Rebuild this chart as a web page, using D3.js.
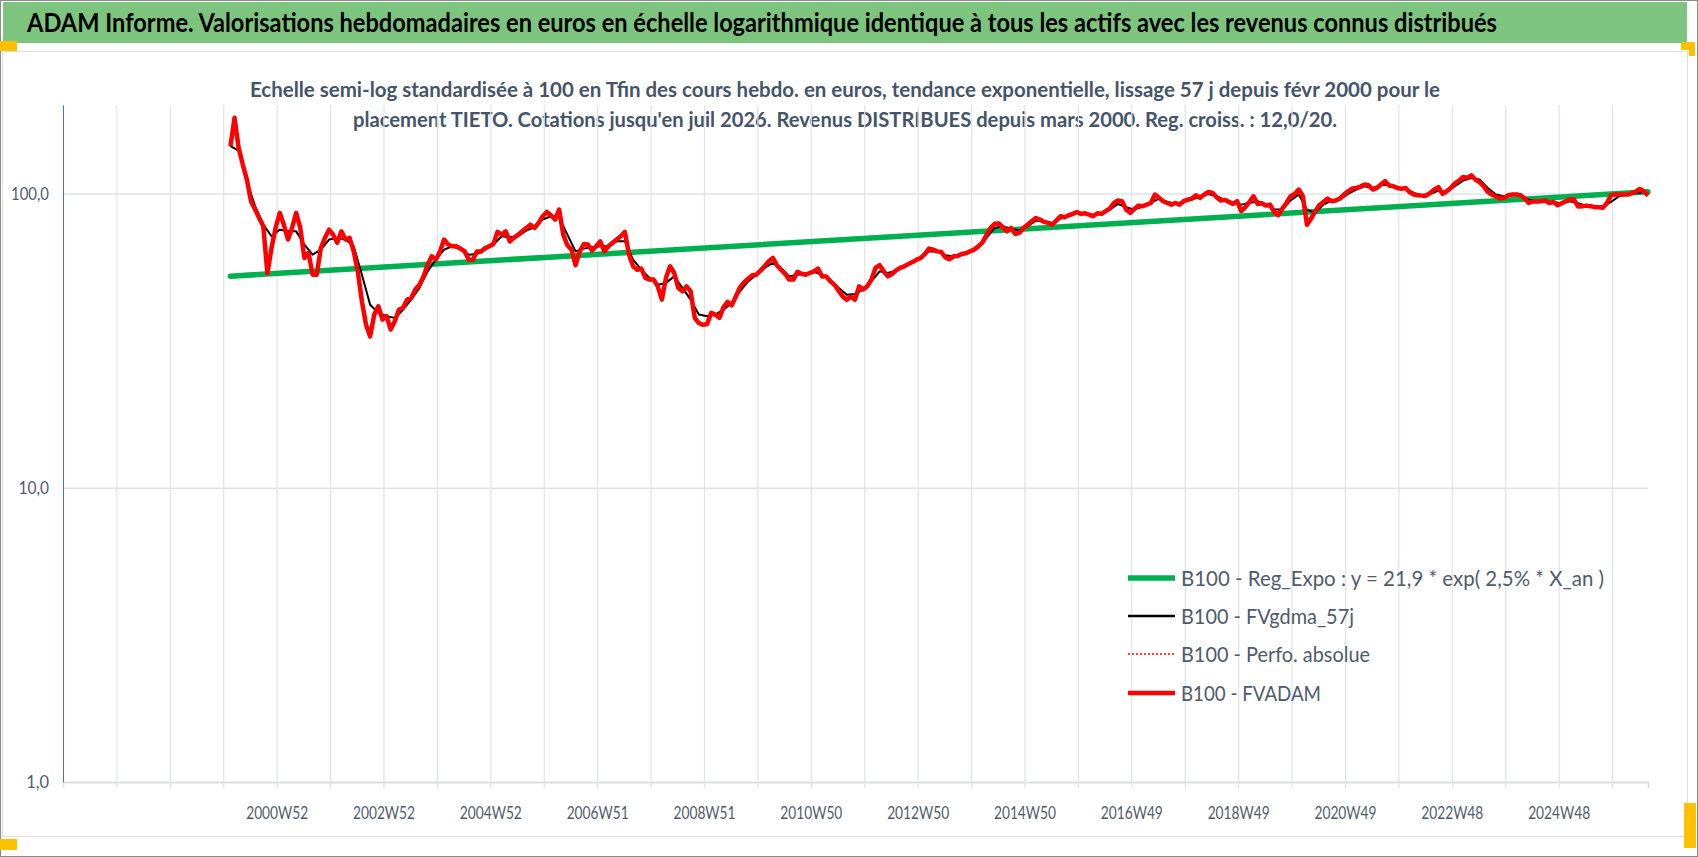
<!DOCTYPE html>
<html>
<head>
<meta charset="utf-8">
<script src="https://cdn.jsdelivr.net/npm/d3@7"></script>
<style>
  body { margin: 0; background: #fff; }
  text { font-family: Lato, "Open Sans", sans-serif; }
</style>
</head>
<body>
<div id="area"></div>
<script>
let titleText = 'ADAM Informe. Valorisations hebdomadaires en euros en échelle logarithmique identique à tous les actifs avec les revenus connus distribués'
let subtitleLines = [
  'Echelle semi-log standardisée à 100 en Tfin des cours hebdo. en euros, tendance exponentielle, lissage 57 j depuis févr 2000 pour le',
  "placement TIETO. Cotations jusqu'en juil 2026. Revenus DISTRIBUES depuis mars 2000. Reg. croiss. : 12,0/20."
]
let legendNames = [
  'B100 - Reg_Expo : y = 21,9 * exp( 2,5% *  X_an )',
  'B100 - FVgdma_57j',
  'B100 - Perfo. absolue',
  'B100 - FVADAM'
]

// weekly category axis: one gridline every 52 weeks, one label every 104
let nWeeks = 1544
let gridStep = 52
let tickLabels = ['2000W52', '2002W52', '2004W52', '2006W51', '2008W51', '2010W50', '2012W50',
  '2014W50', '2016W49', '2018W49', '2020W49', '2022W48', '2024W48']
let firstLabelWeek = 208
let labelStep = 104
let yTicks = [1, 10, 100]

// series start (week index) and sampling steps (weeks)
let firstWeek = 163
let redStep = 4
let blackStep = 8

// B100 - FVADAM, read every 4 weeks
let fvadam = [
  144.9, 180.9, 143.0, 125.5, 111.6, 94.2, 88.2, 82.6, 77.4, 53.5,
  65.3, 76.4, 86.0, 78.4, 69.8, 76.4, 86.0, 76.4, 60.4, 62.8,
  53.0, 53.0, 65.3, 70.7, 75.4, 72.5, 68.0, 74.4, 69.8, 70.7,
  63.6, 54.4, 43.0, 35.8, 32.7, 38.8, 41.4, 37.3, 38.3, 34.5,
  36.8, 40.3, 40.9, 43.6, 44.2, 47.2, 49.0, 52.3, 57.4, 61.2,
  59.6, 63.6, 69.8, 67.1, 66.2, 66.2, 65.0, 63.6, 59.6, 59.6,
  63.6, 63.6, 65.3, 66.2, 67.4, 74.1,
  72.5, 74.4, 68.8, 70.7, 72.5, 74.4, 76.4, 78.4, 76.4, 79.5,
  83.7, 86.6, 84.4, 81.6, 88.2, 72.5, 66.7, 64.5, 57.1, 63.6,
  67.4, 67.1, 64.0, 66.2, 68.8, 63.6, 66.2, 68.0, 69.8, 71.6,
  74.1, 62.0, 56.6, 55.1, 55.6, 51.7, 51.0, 51.0, 48.4, 43.6,
  51.7, 56.6, 53.7, 47.8, 46.5, 48.4, 46.5, 37.8, 36.3, 35.8,
  36.0, 39.3, 38.8, 37.8, 41.1, 42.8, 41.7, 44.7, 48.0, 49.9,
  51.4, 52.8, 53.0, 54.7, 56.6, 58.9, 60.4, 57.1, 55.1, 53.3,
  51.0,
  51.0, 54.2, 53.4, 53.0, 53.7, 54.4, 55.6, 52.3, 52.3, 50.3,
  49.0, 46.8, 44.7, 43.6, 44.7, 43.6, 48.4, 47.2, 48.4, 51.0,
  55.9, 57.1, 54.4, 52.3, 53.3, 54.8, 55.9, 56.6, 57.6, 58.5,
  59.6, 60.4, 62.3, 65.0, 64.5, 63.6, 63.3, 60.7, 59.8, 61.2,
  61.4, 62.3, 62.7, 63.6, 64.5, 66.2, 68.1, 72.2, 76.4, 78.9,
  79.1, 76.8, 74.4, 76.4, 72.9, 73.5, 76.4, 78.4, 80.5, 82.6,
  81.6, 80.1, 79.5, 78.4, 80.9, 83.7, 83.1, 84.4, 85.3, 86.6,
  85.3, 85.7, 84.8, 83.7, 85.7, 85.3, 87.1, 88.9, 92.9, 94.7,
  94.2, 88.2, 86.0, 88.7, 91.0, 90.6, 91.7, 92.9, 99.2, 96.7,
  94.2, 92.9, 91.7, 92.9, 91.7, 94.2, 95.4, 96.2, 98.7, 96.7,
  99.2, 101.3, 100.5, 97.2, 94.7, 95.2, 93.7, 92.2, 94.2, 87.1,
  89.9, 93.7, 97.9, 92.2, 92.7, 91.0, 91.7, 86.6, 84.4, 88.9,
  92.9, 97.9, 99.7, 103.2, 97.9, 78.4, 82.2, 87.1, 91.3, 93.7,
  96.2, 94.2, 94.7, 96.2, 99.2, 101.8, 104.0, 104.5, 105.6, 107.3,
  106.7,
  103.2, 104.5, 107.3, 110.2, 106.5, 105.9, 104.5, 103.7, 104.5, 101.0,
  99.2, 98.7, 98.4, 98.4, 100.5, 103.2, 105.1, 99.7, 101.8, 104.5,
  108.4, 110.7, 113.9, 113.0, 115.4, 111.6, 109.3, 105.9, 101.3, 99.2,
  97.7, 96.2, 96.7, 98.7, 99.2, 99.2, 98.7, 96.2, 92.9, 94.2,
  93.9, 94.2, 94.7, 92.9, 93.7, 91.3, 92.7, 94.2, 95.7, 95.4,
  90.3, 90.6, 91.0, 90.6, 89.9, 89.9, 89.4, 92.9, 98.7, 99.2,
  99.2, 99.2, 99.2, 100.3, 101.3, 103.7, 101.8, 98.4
]

// B100 - FVgdma_57j, read every 8 weeks
let fvgdma = [
  144.9, 140, 110, 90.6, 78.4, 71.6, 75.4, 74.4, 74.4, 67.1,
  62.0, 64.5, 69.8, 70.7, 69.8, 66.2, 53.0, 41.9, 39.3, 38.3,
  37.8, 40.3, 43.6, 47.8, 54.4, 59.6, 64.5, 66.2, 64.5, 62.0,
  62.3, 64.5, 67.1, 71.6, 71.0, 71.6, 74.8, 76.8, 81.6, 83.7,
  83.1, 72.5, 63.6, 65.0, 65.7, 66.2, 66.2, 68.8, 68.8, 59.6,
  55.1, 51.7, 49.0, 49.7, 52.3, 47.8, 43.6, 38.8, 38.3, 38.8,
  40.3, 42.5, 46.5, 50.3, 53.0, 55.9, 58.1, 55.9, 52.3, 53.0,
  53.3, 54.2, 53.0, 51.0, 47.8, 45.3, 45.6, 47.2, 50.3, 54.4,
  53.7, 54.7, 56.4, 58.4, 60.4, 63.6, 63.6, 61.7, 61.1, 62.0,
  63.3, 65.3, 70.7, 76.4, 77.4, 76.0, 74.8, 77.4, 80.9, 80.5,
  79.5, 82.2, 83.9, 85.7, 85.3, 84.8, 85.3, 88.2, 92.2, 89.9,
  88.2, 90.3, 92.9, 96.2, 93.7, 92.5, 93.7, 95.4, 97.7, 99.7,
  97.9, 95.2, 93.2, 91.7, 92.9, 94.2, 91.7, 88.2, 88.2, 94.7,
  99.2, 88.2, 86.0, 91.7, 94.7, 95.4, 99.7, 103.2, 105.9, 104.5,
  106.7, 107.3, 105.1, 104.0, 100.5, 98.7, 99.7, 102.4, 101.3, 105.9,
  110.7, 113.0, 111.6, 104.5, 99.2, 97.7, 98.7, 98.7, 95.2, 94.2,
  94.2, 93.4, 92.7, 94.2, 92.7, 90.8, 90.3, 90.3, 93.7, 97.9,
  99.2, 100.3, 101.3
]

// B100 - Reg_Expo, first and last week values
let regExpo = [52.4, 101.4]

let width = 1698
let height = 857
let plotLeft = 63
let plotRight = 1648
let plotTop = 105
let plotBottom = 782

let text_color = '#4f5b6b'
let grid_color = '#dfe3e9'

let svg = d3.select('#area').append('svg')
  .attr('width', width).attr('height', height)

// frame, title band, chart area
svg.append('rect').attr('x', 0.5).attr('y', 0.5).attr('width', width - 1).attr('height', height - 1)
  .attr('fill', '#fff').attr('stroke', '#8c8c8c')
svg.append('rect').attr('x', 3).attr('y', 2).attr('width', 1684).attr('height', 41)
  .attr('fill', '#7dc57f')
svg.append('rect').attr('x', 2.5).attr('y', 51.5).attr('width', 1685).attr('height', 785)
  .attr('fill', '#fff').attr('stroke', '#dcdcdc')

svg.append('text').text(titleText)
  .attr('x', 27).attr('y', 32)
  .attr('font-size', 26.5).attr('font-weight', 'bold').attr('fill', '#000')
  .attr('textLength', 1470).attr('lengthAdjust', 'spacingAndGlyphs')

// selection handles
let handles = [[0, 41, 17, 10], [1681, 42, 14, 8], [1689, 42, 6, 14], [0, 839, 17, 11], [1684, 803, 12, 45]]
svg.selectAll('rect.handle').data(handles).enter().append('rect')
  .attr('class', 'handle')
  .attr('x', d => d[0]).attr('y', d => d[1]).attr('width', d => d[2]).attr('height', d => d[3])
  .attr('fill', '#ffc000')

// subtitle
let subLengths = [1190, 984]
svg.selectAll('text.sub').data(subtitleLines).enter().append('text')
  .attr('class', 'sub')
  .text(d => d)
  .attr('x', 845).attr('y', (d, i) => 97 + i * 30)
  .attr('text-anchor', 'middle')
  .attr('font-size', 21.5).attr('font-weight', 'bold').attr('fill', '#44546a')
  .attr('textLength', (d, i) => subLengths[i]).attr('lengthAdjust', 'spacingAndGlyphs')

// scales
let x = d3.scaleLinear().domain([0, nWeeks - 1]).range([plotLeft, plotRight])
let y = d3.scaleLog().domain([1, 200]).range([plotBottom, plotTop])

let gridWeeks = d3.range(0, nWeeks, gridStep)
let labelOf = {}
tickLabels.forEach(function(l, i) { labelOf[firstLabelWeek + i * labelStep] = l })

// vertical gridlines
let xGrid = svg.append('g')
  .attr('transform', 'translate(0,' + plotBottom + ')')
  .call(d3.axisBottom(x).tickValues(gridWeeks).tickSize(-(plotBottom - plotTop)).tickFormat(''))
xGrid.select('.domain').remove()
xGrid.selectAll('line').attr('stroke', grid_color).attr('stroke-width', 1.2)

// horizontal gridlines
let yGrid = svg.append('g')
  .attr('transform', 'translate(' + plotLeft + ',0)')
  .call(d3.axisLeft(y).tickValues(yTicks).tickSize(-(plotRight - plotLeft)).tickFormat(''))
yGrid.select('.domain').remove()
yGrid.selectAll('line').attr('stroke', grid_color).attr('stroke-width', 1.5)

// x axis with ticks and labels
let xAxis = svg.append('g')
  .attr('transform', 'translate(0,' + plotBottom + ')')
  .call(d3.axisBottom(x).tickValues(gridWeeks).tickSize(6).tickPadding(19)
    .tickFormat(w => labelOf[w] || ''))
xAxis.select('.domain').attr('stroke', '#d9d9d9').attr('stroke-width', 1.5)
xAxis.selectAll('line').attr('stroke', grid_color).attr('stroke-width', 1.2)
xAxis.selectAll('text')
  .attr('font-size', 17).attr('fill', text_color)
  .attr('font-family', 'Lato, "Open Sans", sans-serif')
  .each(function() {
    if (this.textContent) d3.select(this).attr('textLength', 62).attr('lengthAdjust', 'spacingAndGlyphs')
  })

// y axis
let yAxis = svg.append('g')
  .attr('transform', 'translate(' + plotLeft + ',0)')
  .call(d3.axisLeft(y).tickValues(yTicks).tickSize(0).tickPadding(14)
    .tickFormat(d => d.toFixed(1).replace('.', ',')))
yAxis.select('.domain').attr('stroke', '#4472c4').attr('stroke-width', 1)
yAxis.selectAll('text')
  .attr('font-size', 17).attr('fill', text_color)
  .attr('font-family', 'Lato, "Open Sans", sans-serif')
  .each(function() {
    let t = this.textContent
    d3.select(this).attr('textLength', t.length * 7.6).attr('lengthAdjust', 'spacingAndGlyphs')
  })

// series
let redLine = d3.line().x((d, i) => x(firstWeek + i * redStep)).y(d => y(d))
let blackLine = d3.line().x((d, i) => x(firstWeek + i * blackStep)).y(d => y(d))
let regWeeks = [firstWeek, firstWeek + (fvadam.length - 1) * redStep]
let regLine = d3.line().x((d, i) => x(regWeeks[i])).y(d => y(d))

svg.append('path').datum(regExpo).attr('d', regLine)
  .attr('fill', 'none').attr('stroke', '#00b050').attr('stroke-width', 5.5).attr('stroke-linecap', 'round')
svg.append('path').datum(fvgdma).attr('d', blackLine)
  .attr('fill', 'none').attr('stroke', '#000').attr('stroke-width', 2).attr('stroke-linejoin', 'round')
svg.append('path').datum(fvadam).attr('d', redLine)
  .attr('fill', 'none').attr('stroke', '#ff0000').attr('stroke-width', 1.5).attr('stroke-dasharray', '2 2')
svg.append('path').datum(fvadam).attr('d', redLine)
  .attr('fill', 'none').attr('stroke', '#ff0000').attr('stroke-width', 4.5).attr('stroke-linejoin', 'round')

// legend
let legendStyles = [
  {color: '#00b050', w: 5.5, dash: null},
  {color: '#000', w: 2.5, dash: null},
  {color: '#ff0000', w: 1.5, dash: '2 2'},
  {color: '#ff0000', w: 4.5, dash: null}
]
let legendLengths = [423, 173, 189, 140]
let legendY = [578, 616, 654, 693]
let legend = svg.append('g')
legendNames.forEach(function(name, i) {
  let s = legendStyles[i]
  legend.append('line')
    .attr('x1', 1128).attr('x2', 1175).attr('y1', legendY[i]).attr('y2', legendY[i])
    .attr('stroke', s.color).attr('stroke-width', s.w)
    .attr('stroke-dasharray', s.dash)
  legend.append('text').text(name)
    .attr('x', 1181).attr('y', legendY[i] + 8)
    .attr('font-size', 22).attr('fill', text_color)
    .attr('textLength', legendLengths[i]).attr('lengthAdjust', 'spacingAndGlyphs')
})
</script>
</body>
</html>
